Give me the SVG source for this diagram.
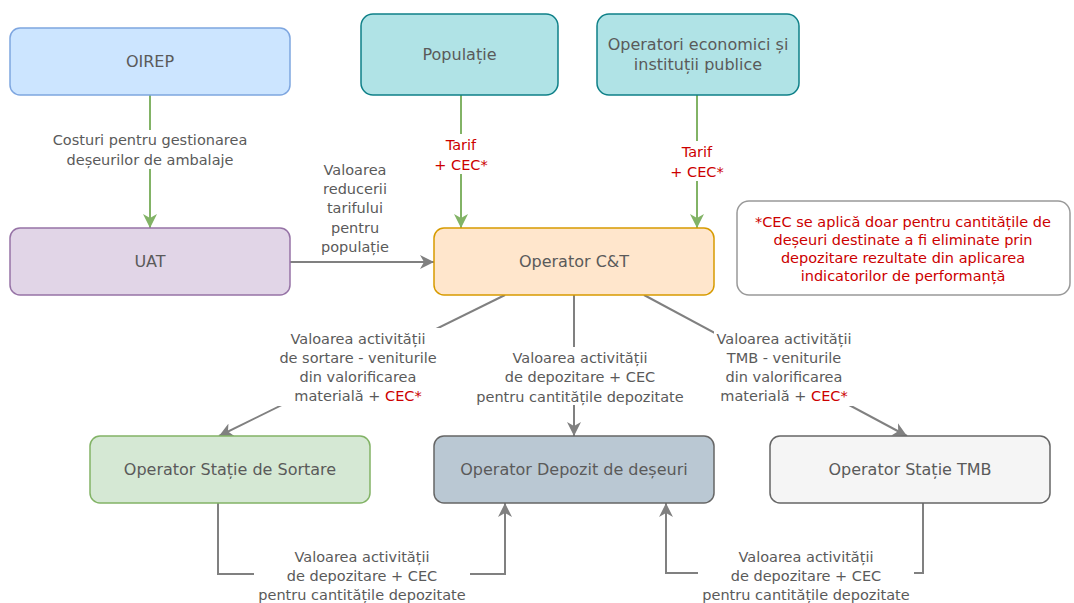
<svg xmlns="http://www.w3.org/2000/svg" width="1074" height="603" viewBox="0 0 1074 603">
<style>
text{font-family:"DejaVu Sans","Liberation Sans",sans-serif;text-anchor:middle}
.n{font-size:16px;fill:#5a5a5a}
.l{font-size:14.5px;fill:#5a5a5a}
.r{fill:#cc0000}
.g{stroke:#82b366;stroke-width:2;fill:none}
.k{stroke:#808080;stroke-width:2;fill:none}
.bg{fill:#ffffff}
</style>
<defs>
<marker id="ag" markerUnits="userSpaceOnUse" markerWidth="14" markerHeight="14" viewBox="0 0 14 14" refX="14" refY="7" orient="auto">
<path d="M0,0 L14,7 L0,14 L4,7 z" fill="#82b366"/>
</marker>
<marker id="ak" markerUnits="userSpaceOnUse" markerWidth="14" markerHeight="14" viewBox="0 0 14 14" refX="14" refY="7" orient="auto">
<path d="M0,0 L14,7 L0,14 L4,7 z" fill="#808080"/>
</marker>
</defs>

<g id="connectors">
<line class="g" x1="150" y1="95" x2="150" y2="228" marker-end="url(#ag)"/>
<line class="g" x1="461" y1="95" x2="461" y2="228" marker-end="url(#ag)"/>
<line class="g" x1="697" y1="95" x2="697" y2="228" marker-end="url(#ag)"/>
<line class="k" x1="290" y1="262" x2="434" y2="262" marker-end="url(#ak)"/>
<line class="k" x1="505" y1="295" x2="219" y2="436" marker-end="url(#ak)"/>
<line class="k" x1="574" y1="295" x2="574" y2="436" marker-end="url(#ak)"/>
<line class="k" x1="644" y1="295" x2="907" y2="436" marker-end="url(#ak)"/>
<polyline class="k" points="218,502 218,574 505,574 505,503" marker-end="url(#ak)"/>
<polyline class="k" points="923,502 923,573 666,573 666,503" marker-end="url(#ak)"/>

<rect class="bg" x="48" y="130" width="204" height="39"/>
<text class="l" x="150" y="145">Costuri pentru gestionarea</text>
<text class="l" x="150" y="165">deșeurilor de ambalaje</text>

<rect class="bg" x="431" y="134" width="60" height="40"/>
<text class="l r" x="461" y="150">Tarif</text>
<text class="l r" x="461" y="170">+ CEC*</text>

<rect class="bg" x="667" y="141" width="60" height="40"/>
<text class="l r" x="697" y="157">Tarif</text>
<text class="l r" x="697" y="177">+ CEC*</text>

<text class="l" x="355" y="175">Valoarea</text>
<text class="l" x="355" y="194">reducerii</text>
<text class="l" x="355" y="213">tarifului</text>
<text class="l" x="355" y="233">pentru</text>
<text class="l" x="355" y="252">populație</text>

<rect class="bg" x="275" y="328" width="167" height="78"/>
<text class="l" x="358" y="344">Valoarea activității</text>
<text class="l" x="358" y="363">de sortare - veniturile</text>
<text class="l" x="358" y="382">din valorificarea</text>
<text class="l" x="358" y="401">materială + <tspan class="r">CEC*</tspan></text>

<rect class="bg" x="496" y="347" width="190" height="58"/>
<text class="l" x="580" y="363">Valoarea activității</text>
<text class="l" x="580" y="382">de depozitare + CEC</text>
<text class="l" x="580" y="402">pentru cantitățile depozitate</text>

<rect class="bg" x="714" y="329" width="140" height="77"/>
<text class="l" x="784" y="344">Valoarea activității</text>
<text class="l" x="784" y="363">TMB - veniturile</text>
<text class="l" x="784" y="382">din valorificarea</text>
<text class="l" x="784" y="401">materială + <tspan class="r">CEC*</tspan></text>

<rect class="bg" x="254" y="546" width="216" height="57"/>
<text class="l" x="362" y="562">Valoarea activității</text>
<text class="l" x="362" y="581">de depozitare + CEC</text>
<text class="l" x="362" y="600">pentru cantitățile depozitate</text>

<rect class="bg" x="698" y="546" width="216" height="57"/>
<text class="l" x="806" y="562">Valoarea activității</text>
<text class="l" x="806" y="581">de depozitare + CEC</text>
<text class="l" x="806" y="600">pentru cantitățile depozitate</text>
</g>

<g id="oirep">
<rect x="10" y="28" width="280" height="67" rx="10" fill="#cce5ff" stroke="#7ea6e0" stroke-width="1.5"/>
<text class="n" x="150" y="67">OIREP</text>
</g>
<g id="populatie">
<rect x="361" y="14" width="197" height="81" rx="12" fill="#b0e3e6" stroke="#0e8088" stroke-width="1.5"/>
<text class="n" x="459.5" y="60">Populație</text>
</g>
<g id="operatori">
<rect x="597" y="14" width="202" height="81" rx="12" fill="#b0e3e6" stroke="#0e8088" stroke-width="1.5"/>
<text class="n" x="698" y="50">Operatori economici și</text>
<text class="n" x="698" y="70">instituții publice</text>
</g>
<g id="uat">
<rect x="10" y="228" width="280" height="67" rx="10" fill="#e1d5e7" stroke="#9673a6" stroke-width="1.5"/>
<text class="n" x="150" y="267">UAT</text>
</g>
<g id="operator-ct">
<rect x="434" y="228" width="280" height="67" rx="10" fill="#ffe6cc" stroke="#d79b00" stroke-width="1.5"/>
<text class="n" x="574" y="267">Operator C&amp;T</text>
</g>
<g id="nota">
<rect x="737" y="201" width="333" height="94" rx="12" fill="#ffffff" stroke="#999999" stroke-width="1.5"/>
<text class="l r" x="903" y="227">*CEC se aplică doar pentru cantitățile de</text>
<text class="l r" x="903" y="245">deșeuri destinate a fi eliminate prin</text>
<text class="l r" x="903" y="263">depozitare rezultate din aplicarea</text>
<text class="l r" x="903" y="281">indicatorilor de performanță</text>
</g>
<g id="sortare">
<rect x="90" y="436" width="280" height="67" rx="10" fill="#d5e8d4" stroke="#82b366" stroke-width="1.5"/>
<text class="n" x="230" y="475">Operator Stație de Sortare</text>
</g>
<g id="depozit">
<rect x="434" y="436" width="280" height="67" rx="10" fill="#bac8d3" stroke="#666666" stroke-width="1.5"/>
<text class="n" x="574" y="475">Operator Depozit de deșeuri</text>
</g>
<g id="tmb">
<rect x="770" y="436" width="280" height="67" rx="10" fill="#f5f5f5" stroke="#666666" stroke-width="1.5"/>
<text class="n" x="910" y="475">Operator Stație TMB</text>
</g>
</svg>
